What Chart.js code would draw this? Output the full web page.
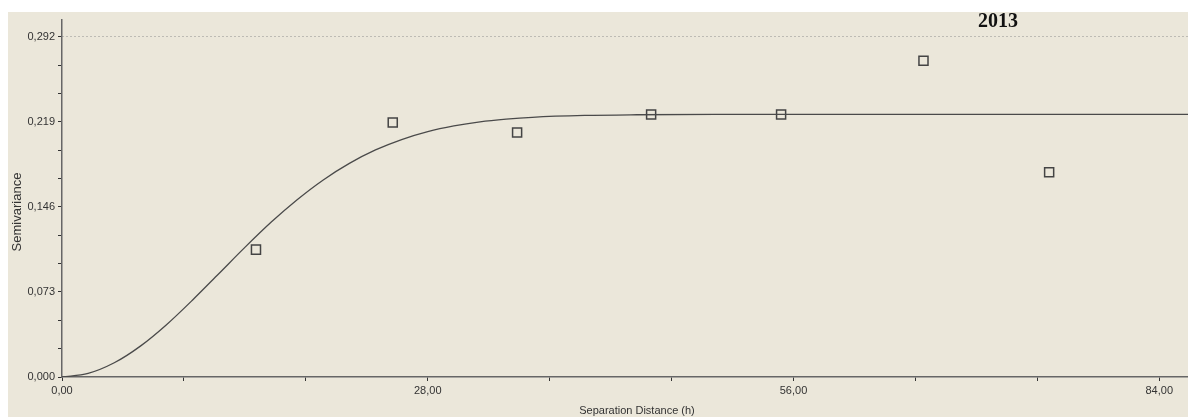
<!DOCTYPE html>
<html>
<head>
<meta charset="utf-8">
<script src="https://cdn.jsdelivr.net/npm/chart.js@4/dist/chart.umd.min.js"></script>
<style>
    html, body { margin: 0; padding: 0; background: #ffffff; }
    #wrap { position: absolute; left: 8px; top: 12px; width: 1180px; height: 405px; background: #ebe7da; }
</style>
</head>
<body>
<div id="wrap"><canvas id="semivarChart" width="1180" height="405"></canvas></div>
<script>
    // experimental semivariogram points
    const lagDistance = [14.85, 25.32, 34.84, 45.10, 55.05, 65.95, 75.57];
    const semivariance = [0.1093, 0.2184, 0.2098, 0.2253, 0.2253, 0.2713, 0.1757];

    // fitted model curve
    const modelDistance = [0, 2, 4, 6, 8, 10, 12, 14, 16, 18, 20, 22, 24, 26, 28, 30, 32, 34, 36, 40, 44, 50, 60, 70, 80, 86.2];
    const modelSemivariance = [0, 0.0031, 0.0122, 0.0265, 0.0449, 0.0661, 0.0886, 0.1112, 0.1327, 0.1521, 0.1691, 0.1833,
        0.1948, 0.2037, 0.2105, 0.2154, 0.2189, 0.2212, 0.2228, 0.2244, 0.2250, 0.2253, 0.2253, 0.2253, 0.2253, 0.2253];

    const xMajorTicks = [0, 28, 56, 84];
    const xTickLabels = ["0,00", "28,00", "56,00", "84,00"];
    const yMajorTicks = [0, 0.073, 0.146, 0.219, 0.292];
    const yTickLabels = ["0,000", "0,073", "0,146", "0,219", "0,292"];

    // major ticks plus two minor ticks between each pair
    function withMinor(majors) {
        const out = [];
        for (let i = 0; i < majors.length; i++) {
            out.push(majors[i]);
            if (i < majors.length - 1) {
                const step = (majors[i + 1] - majors[i]) / 3;
                out.push(majors[i] + step, majors[i] + 2 * step);
            }
        }
        return out;
    }

    function labelFor(value, majors, labels) {
        const i = majors.findIndex(m => Math.abs(m - value) < 1e-6);
        return i >= 0 ? labels[i] : "";
    }

    const tickFont = { family: "Liberation Sans", size: 11 };

    // year heading and axis captions
    const captions = {
        id: "captions",
        afterDraw(chart) {
            const ctx = chart.ctx;
            ctx.save();
            ctx.textAlign = "center";
            ctx.textBaseline = "middle";
            ctx.fillStyle = "#111";
            ctx.font = "bold 20px 'Liberation Serif'";
            ctx.fillText("2013", 990, 10);

            ctx.fillStyle = "#333";
            ctx.font = "11px 'Liberation Sans'";
            ctx.fillText("Separation Distance (h)", 629, 399);

            ctx.translate(9, 200);
            ctx.rotate(-Math.PI / 2);
            ctx.font = "13px 'Liberation Sans'";
            ctx.fillText("Semivariance", 0, 0);
            ctx.restore();
        }
    };

    const ctx = document.getElementById("semivarChart").getContext("2d");
    const myChart = new Chart(ctx, {
        type: "scatter",
        data: {
            datasets: [
                {
                    label: "Model",
                    type: "line",
                    data: modelDistance.map((h, i) => ({ x: h, y: modelSemivariance[i] })),
                    borderColor: "#4a4a4a",
                    borderWidth: 1.3,
                    pointRadius: 0,
                    cubicInterpolationMode: "monotone",
                    fill: false
                },
                {
                    label: "Semivariance",
                    data: lagDistance.map((h, i) => ({ x: h, y: semivariance[i] })),
                    pointStyle: "rect",
                    pointRadius: 6.4,
                    pointBackgroundColor: "rgba(0,0,0,0)",
                    pointBorderColor: "#444",
                    pointBorderWidth: 1.5
                }
            ]
        },
        options: {
            responsive: false,
            animation: false,
            layout: { autoPadding: false, padding: { top: 8, right: 0, left: 0, bottom: 0 } },
            plugins: {
                legend: { display: false },
                tooltip: { enabled: false }
            },
            scales: {
                x: {
                    type: "linear",
                    min: 0,
                    max: 86.2,
                    afterBuildTicks: scale => {
                        scale.ticks = withMinor(xMajorTicks).map(v => ({ value: v }));
                    },
                    afterFit: scale => {
                        scale.height = 40;
                        scale.paddingLeft = 0;
                        scale.paddingRight = 0;
                    },
                    ticks: {
                        autoSkip: false,
                        maxRotation: 0,
                        padding: 3,
                        color: "#333",
                        font: tickFont,
                        callback: v => labelFor(v, xMajorTicks, xTickLabels)
                    },
                    grid: {
                        drawOnChartArea: false,
                        drawTicks: true,
                        tickLength: 4,
                        tickColor: "#333"
                    },
                    border: { display: true, color: "#666", width: 1.5 }
                },
                y: {
                    min: 0,
                    max: 0.3063,
                    afterBuildTicks: scale => {
                        scale.ticks = withMinor(yMajorTicks).map(v => ({ value: v }));
                    },
                    afterFit: scale => {
                        scale.width = 54;
                        scale.paddingTop = 0;
                        scale.paddingBottom = 0;
                    },
                    ticks: {
                        autoSkip: false,
                        padding: 3,
                        color: "#333",
                        font: tickFont,
                        callback: v => labelFor(v, yMajorTicks, yTickLabels)
                    },
                    grid: {
                        drawOnChartArea: true,
                        drawTicks: true,
                        tickLength: 4,
                        tickColor: "#333",
                        color: c => (c.tick && Math.abs(c.tick.value - 0.292) < 1e-6) ? "#8f8f8f" : "rgba(0,0,0,0)"
                    },
                    border: { display: true, color: "#666", width: 1.5, dash: [1, 3] }
                }
            }
        },
        plugins: [captions]
    });
</script>
</body>
</html>
